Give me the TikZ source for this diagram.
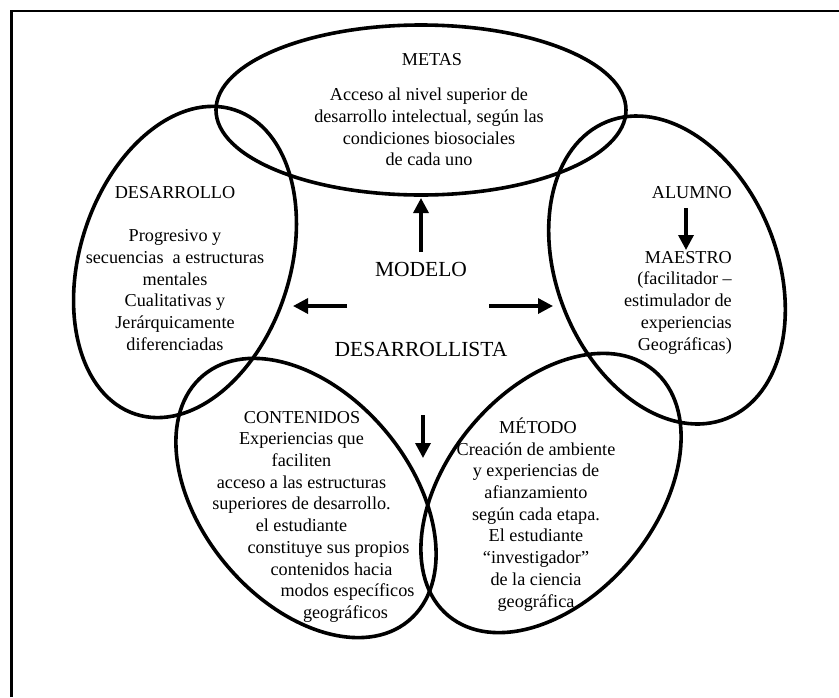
\documentclass[tikz,border=0pt]{standalone}
\usepackage{fontspec}
\setmainfont{Liberation Serif}
\usetikzlibrary{arrows.meta}
\begin{document}
\begin{tikzpicture}[x=1pt,y=-1pt,
  ring/.style={line width=3.6pt},
  txt/.style={font=\fontsize{18.2}{21.7}\selectfont, inner sep=0pt},
  body/.style={txt, align=center, anchor=north},
  big/.style={font=\fontsize{21.5}{26}\selectfont, inner sep=0pt, anchor=base},
  pointer/.style={line width=3.4pt, -{Triangle[length=15pt,width=15pt]}}]
\useasboundingbox (0,0) rectangle (839,697);

% frame (top and left edges)
\draw[line width=2.4pt] (11.5,697) -- (11.5,11) -- (839,11);

% the five overlapping ellipses
\draw[ring] (421,110) ellipse [x radius=205, y radius=85];
\draw[ring, rotate around={-18:(185,262)}] (185,262) ellipse [x radius=105, y radius=160];
\draw[ring, rotate around={22:(667,270)}] (667,270) ellipse [x radius=110, y radius=160];
\draw[ring, rotate around={40:(306,498)}] (306,498) ellipse [x radius=104, y radius=160];
\draw[ring, rotate around={-40:(551,493)}] (551,493) ellipse [x radius=104, y radius=160];

% centre title
\node[big] (modelo) at (421,276) {MODELO};
\node[big] (desarrollista) at (421,356) {DESARROLLISTA};

% METAS
\node[txt, anchor=base] (metas) at (432,65) {METAS};
\node[body] (metasbody) at (429,88) {Acceso al nivel superior de\\desarrollo intelectual, según las\\condiciones biosociales\\de cada uno};

% DESARROLLO
\node[txt, anchor=base] (desarrollo) at (175,198) {DESARROLLO};
\node[body] (desarrollobody) at (175,229.4) {Progresivo y\\secuencias\ \ a estructuras\\mentales\\Cualitativas y\\Jerárquicamente\\diferenciadas};

% ALUMNO / MAESTRO
\node[txt, anchor=base east] (alumno) at (732,198) {ALUMNO};
\node[txt, align=right, anchor=north east] (maestro) at (732,251) {MAESTRO\\(facilitador –\\estimulador de\\experiencias\hspace*{4pt}\\Geográficas)};

% CONTENIDOS
\node[txt, anchor=base] (contenidos) at (302,423) {CONTENIDOS};
\node[body] (contenidosbody) at (301.5,432.6) {Experiencias que\\faciliten\\acceso a las estructuras\\superiores de desarrollo.\\el estudiante\\\hspace*{54pt}constituye sus propios\\\hspace*{60pt}contenidos hacia\\\hspace*{92pt}modos específicos\\\hspace*{88pt}geográficos};

% METODO
\node[txt, anchor=base] (metodo) at (538,433) {MÉTODO};
\node[body] (metodobody) at (536,442.3) {Creación de ambiente\\y experiencias de\\afianzamiento\\según cada etapa.\\El estudiante\\“investigador”\\de la ciencia\\geográfica};

% arrows
\coordinate (upS) at (421,252);
\coordinate (upE) at (421,198);
\coordinate (lfS) at (347,306);
\coordinate (lfE) at (293,306);
\coordinate (rtS) at (489,306);
\coordinate (rtE) at (553,306);
\coordinate (dnS) at (423,415);
\coordinate (dnE) at (423,458);
\coordinate (alS) at (686,208);
\coordinate (alE) at (686,250);
\draw[pointer] (upS) -- (upE);
\draw[pointer] (lfS) -- (lfE);
\draw[pointer] (rtS) -- (rtE);
\draw[pointer] (dnS) -- (dnE);
\draw[pointer] (alS) -- (alE);
\end{tikzpicture}
\end{document}
